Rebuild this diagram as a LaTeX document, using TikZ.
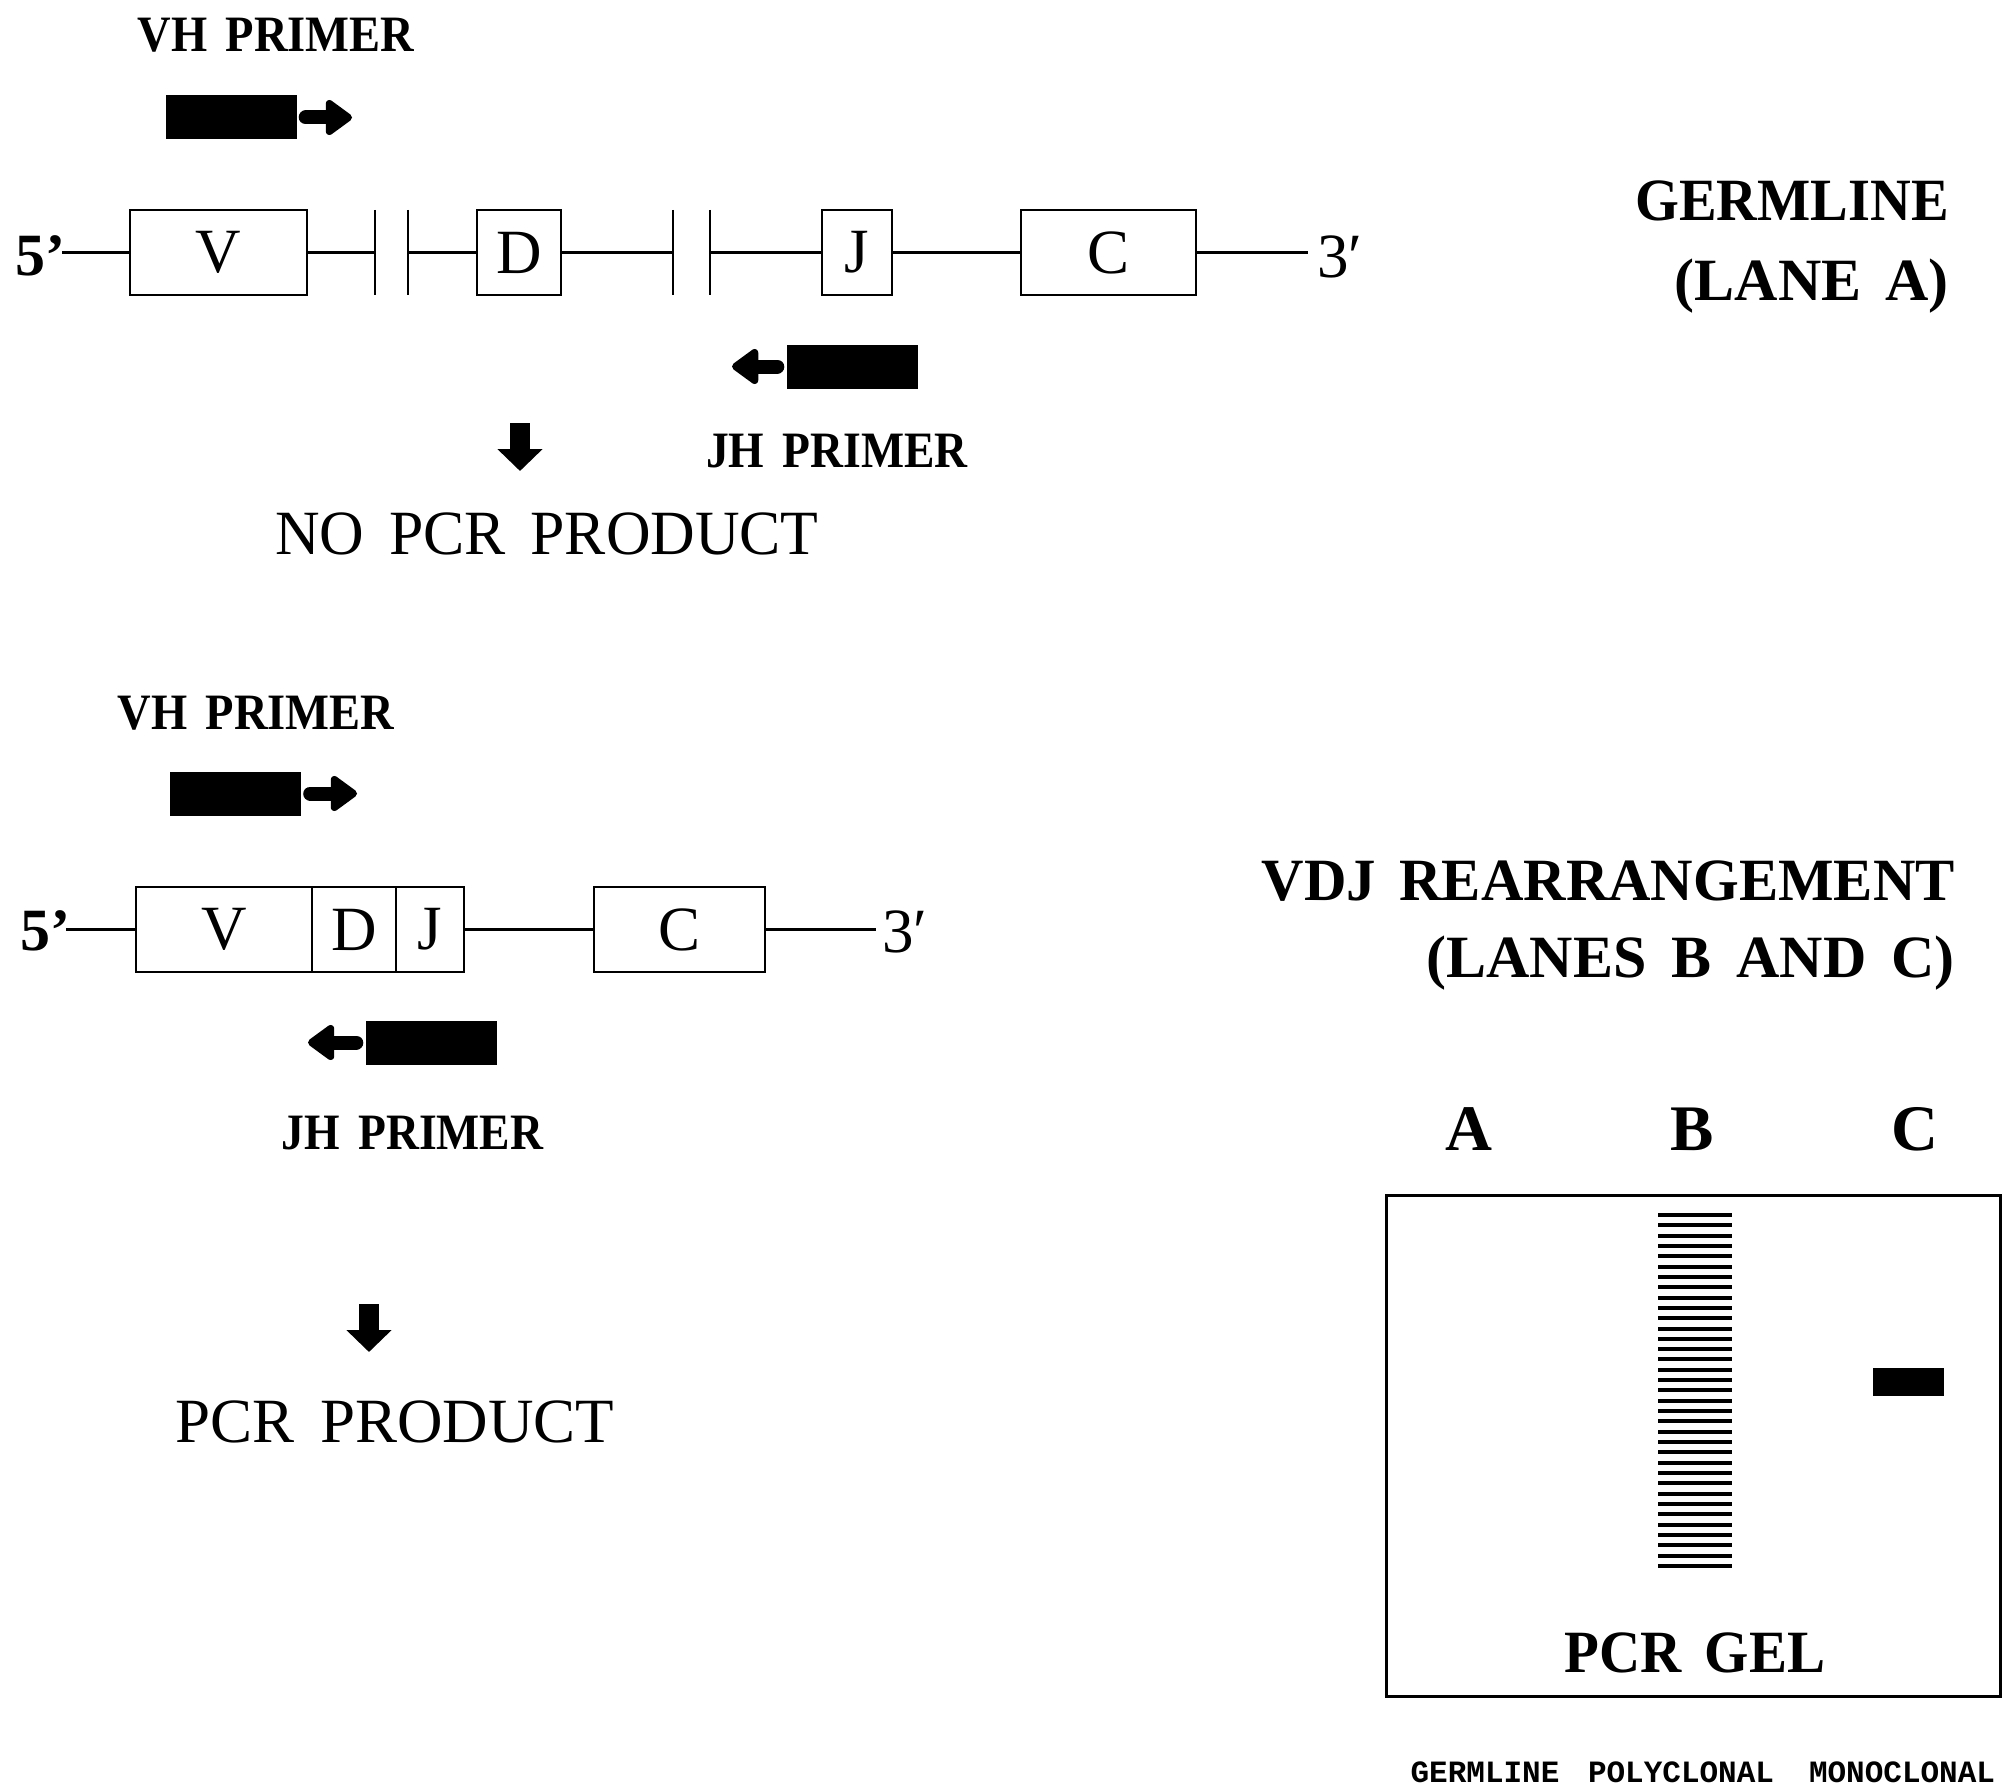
\documentclass[tikz,border=0pt]{standalone}
\usepackage{fontspec}
\usepackage{graphicx}
\setmainfont{Liberation Serif}[WordSpace=1.6]
\newfontfamily\monof{Liberation Mono}
\usetikzlibrary{arrows.meta}
\begin{document}
\begin{tikzpicture}[x=1pt,y=-1pt,
  bl/.style={inner sep=0pt, font=\fontsize{51}{55}\selectfont\bfseries},
  hd/.style={inner sep=0pt, font=\fontsize{60}{64}\selectfont\bfseries},
  lanelab/.style={inner sep=0pt, font=\fontsize{65}{68}\selectfont\bfseries},
  rg/.style={inner sep=0pt, font=\fontsize{63}{66}\selectfont},
  gbox/.style={draw, line width=2.6pt, inner sep=0pt, minimum height=85pt, font=\fontsize{63}{66}\selectfont},
  gline/.style={line width=2.2pt},
  brk/.style={line width=2.4pt},
  bar/.style={fill=black, inner sep=0pt, minimum width=131pt, minimum height=44pt},
  harrow/.style={line width=14pt, line cap=round, -{Triangle[length=29pt,width=40pt,round]}},
  darrow/.style={line width=20pt, -{Triangle[length=22pt,width=44pt]}},
  monolab/.style={inner sep=0pt, font=\fontsize{31}{33}\monof\bfseries},
  band/.style={line width=4pt},
]
\useasboundingbox[fill=white] (0,0) rectangle (2015,1790);

% ---------- GERMLINE (top) ----------
\node[bl, anchor=base] (vhA) at (276,52) {\scalebox{0.912}[1]{VH PRIMER}};
\node[bar] (barVA) at (231,117.5) {};
\coordinate (tipVA) at (352,117.5);
\draw[harrow] ([xshift=9pt]barVA.east) -- (tipVA);

\node[hd, anchor=base west] (fiveA) at (15,275) {5'};
\node[gbox, minimum width=177pt] (VA) at (218.5,252.5) {V};
\node[gbox, minimum width=84pt] (DA) at (519,252.5) {D};
\node[gbox, minimum width=70pt] (JA) at (857,252.5) {J};
\node[gbox, minimum width=175pt] (CA) at (1108.5,252.5) {C};
\node[rg, anchor=base west] (threeA) at (1317,277) {3′};
\coordinate (s5A) at (62,252.5);
\coordinate (e3A) at (1308,252.5);
\coordinate (b1tA) at (375,210); \coordinate (b1bA) at (375,295);
\coordinate (b2tA) at (408,210); \coordinate (b2bA) at (408,295);
\coordinate (b3tA) at (673,210); \coordinate (b3bA) at (673,295);
\coordinate (b4tA) at (710,210); \coordinate (b4bA) at (710,295);
\draw[gline] (s5A) -- (VA.west);
\draw[gline] (VA.east) -- (b1tA |- VA.east);
\draw[gline] (b2tA |- DA.west) -- (DA.west);
\draw[gline] (DA.east) -- (b3tA |- DA.east);
\draw[gline] (b4tA |- JA.west) -- (JA.west);
\draw[gline] (JA.east) -- (CA.west);
\draw[gline] (CA.east) -- (e3A);
\draw[brk] (b1tA) -- (b1bA);
\draw[brk] (b2tA) -- (b2bA);
\draw[brk] (b3tA) -- (b3bA);
\draw[brk] (b4tA) -- (b4bA);

\node[bar] (barJA) at (852,366.5) {};
\coordinate (tipJA) at (732,366.5);
\draw[harrow] ([xshift=-9pt]barJA.west) -- (tipJA);
\node[bl, anchor=base] (jhA) at (837,467) {\scalebox{0.895}[1]{JH PRIMER}};

\coordinate (dAt) at (520,423);
\coordinate (dAb) at (520,471);
\draw[darrow] (dAt) -- (dAb);
\node[rg, anchor=base] (noA) at (547,554) {\scalebox{0.98}[1]{NO PCR PRODUCT}};

\node[hd, anchor=base east] (germ) at (1949,220) {\scalebox{0.94}[1]{GERMLINE}};
\node[hd, anchor=base east] (laneA) at (1949,300) {(LANE\hspace{24pt}A)};

% ---------- VDJ REARRANGEMENT (bottom) ----------
\node[bl, anchor=base] (vhB) at (256,729) {\scalebox{0.912}[1]{VH PRIMER}};
\node[bar] (barVB) at (235.5,793.5) {};
\coordinate (tipVB) at (357,793.5);
\draw[harrow] ([xshift=9pt]barVB.east) -- (tipVB);

\node[hd, anchor=base west] (fiveB) at (20,950) {5'};
\node[gbox, minimum width=176pt] (VB) at (224,929.5) {V};
\node[gbox, minimum width=84pt] (DB) at (354,929.5) {D};
\node[gbox, minimum width=68pt] (JB) at (430,929.5) {J};
\node[gbox, minimum width=171pt] (CB) at (679.5,929.5) {C};
\node[rg, anchor=base west] (threeB) at (882,952) {3′};
\coordinate (s5B) at (66,929.5);
\coordinate (e3B) at (876,929.5);
\draw[gline] (s5B) -- (VB.west);
\draw[gline] (JB.east) -- (CB.west);
\draw[gline] (CB.east) -- (e3B);

\node[bar] (barJB) at (431,1042.5) {};
\coordinate (tipJB) at (308,1042.5);
\draw[harrow] ([xshift=-9pt]barJB.west) -- (tipJB);
\node[bl, anchor=base] (jhB) at (412.5,1149) {\scalebox{0.895}[1]{JH PRIMER}};

\coordinate (dBt) at (369,1304);
\coordinate (dBb) at (369,1352);
\draw[darrow] (dBt) -- (dBb);
\node[rg, anchor=base] (pcrB) at (395,1442) {PCR PRODUCT};

\node[hd, anchor=base east] (vdj) at (1955,900) {\scalebox{0.98}[1]{VDJ REARRANGEMENT}};
\node[hd, anchor=base east] (lanesBC) at (1955,977) {(LANES\hspace{25pt}B\hspace{25pt}AND\hspace{25pt}C)};

% ---------- PCR GEL ----------
\node[lanelab, anchor=base] (laA) at (1469,1150) {A};
\node[lanelab, anchor=base] (laB) at (1692,1150) {B};
\node[lanelab, anchor=base] (laC) at (1915,1150) {C};

\node[draw, line width=3pt, inner sep=0pt, minimum width=614pt, minimum height=501pt] (gel) at (1693,1445.5) {};
\foreach \i in {0,...,34} {
  \draw[band] (1658,{1215+\i*10.32}) -- (1732,{1215+\i*10.32});
}
\node[fill=black, inner sep=0pt, minimum width=71pt, minimum height=28pt] (monoband) at (1908.5,1382) {};
\node[hd, anchor=base] (gellab) at (1695,1672) {\scalebox{0.95}[1]{PCR GEL}};

\node[monolab, anchor=base] (tgerm) at (1485,1782) {GERMLINE};
\node[monolab, anchor=base] (tpoly) at (1681,1782) {POLYCLONAL};
\node[monolab, anchor=base] (tmono) at (1902,1782) {MONOCLONAL};
\end{tikzpicture}
\end{document}
